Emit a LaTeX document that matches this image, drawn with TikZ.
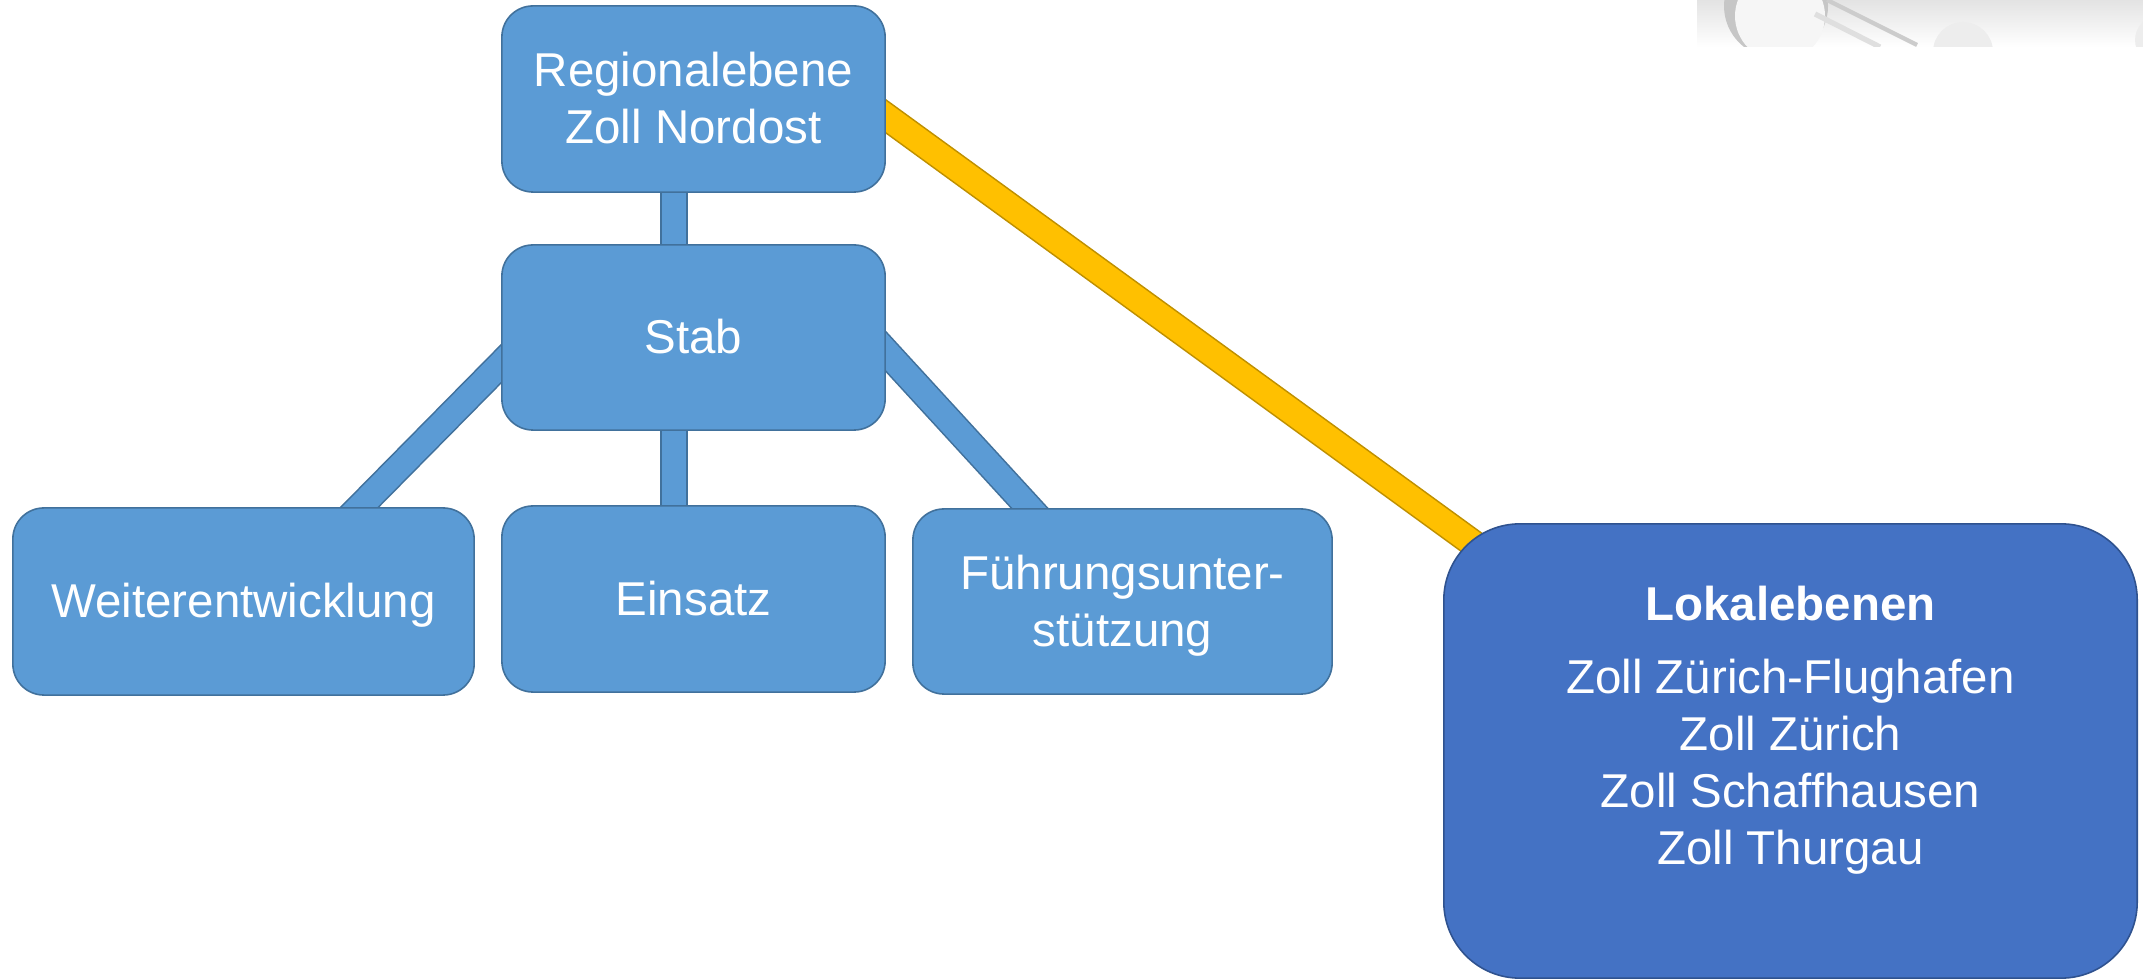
\documentclass[tikz,border=0pt]{standalone}
\usepackage{fontspec}
\setmainfont{Liberation Sans}
\definecolor{bfill}{HTML}{5B9BD5}
\definecolor{bline}{HTML}{41719C}
\definecolor{lfill}{HTML}{4472C4}
\definecolor{lline}{HTML}{2F528F}
\definecolor{yfill}{HTML}{FFC000}
\definecolor{yline}{HTML}{BF9000}
\pgfdeclarelayer{background}
\pgfsetlayers{background,main}
\newcommand{\pptstrut}{\rule[-0.212em]{0pt}{1.117em}}
\begin{document}
\begin{tikzpicture}[x=0.01cm,y=-0.01cm,
  boxtext/.style={text=white, align=center, inner sep=0pt, font=\fontsize{13.5}{16.2}\selectfont},
  box/.style={boxtext, draw=bline, fill=bfill, line width=0.45pt, rounded corners=0.31cm},
  lokalbox/.style={draw=lline, fill=lfill, line width=0.45pt, rounded corners=0.76cm, inner sep=0pt},
  bar/.style={draw=bline, line width=0.45pt, double=bfill, double distance=7.1pt},
  ybar/.style={draw=yline, line width=0.45pt, double=yfill, double distance=7.1pt}]
\useasboundingbox (0,0) rectangle (2143,980);

% nodes
\node[box, minimum width=3.83cm, minimum height=1.86cm] (reg) at (693.5,99) {\pptstrut Regionalebene\\\pptstrut Zoll Nordost};
\node[box, minimum width=3.83cm, minimum height=1.85cm] (stab) at (693.5,337.5) {\pptstrut Stab};
\node[box, minimum width=4.61cm, minimum height=1.87cm] (weiter) at (243.5,601.5) {\pptstrut Weiterentwicklung};
\node[box, minimum width=3.83cm, minimum height=1.86cm] (einsatz) at (693.5,599) {\pptstrut Einsatz};
\node[box, minimum width=4.19cm, minimum height=1.85cm] (fuehr) at (1122.5,601.5) {\pptstrut Führungsunter-\\\pptstrut stützung};
\node[lokalbox, minimum width=6.93cm, minimum height=4.54cm] (lokal) at (1790.5,751) {};
\node[boxtext] (lokaltext) at (1790.5,726) {\pptstrut\textbf{Lokalebenen}\\[4.5pt]\pptstrut Zoll Zürich-Flughafen\\\pptstrut Zoll Zürich\\\pptstrut Zoll Schaffhausen\\\pptstrut Zoll Thurgau};

\begin{pgfonlayer}{background}
  % faded picture fragment, top right
  \begin{scope}
    \clip (1697,0) rectangle (2143,47);
    \shade[top color=gray!22, bottom color=white] (1697,0) rectangle (2143,47);
    \fill[gray!45] (1776,6) circle (52);
    \fill[white!93!gray] (1780,16) circle (45);
    \draw[gray!40, line width=1.2pt] (1827,0) -- (1917,45);
    \draw[gray!25, line width=1.5pt] (1815,14) -- (1880,47);
    \fill[gray!14] (1963,52) circle (30);
    \fill[gray!14] (2160,40) circle (25);
    \shade[top color=white, bottom color=white, middle color=white, opacity=0] (1697,0) rectangle (2143,47);
  \end{scope}
  % connectors
  \draw[bar] ([xshift=-0.195cm]reg.center) -- ([xshift=-0.195cm]stab.center);
  \draw[bar] ([xshift=-0.195cm]stab.center) -- ([xshift=-0.195cm]einsatz.center);
  \draw[bar] ([xshift=-1.135cm, yshift=0.535cm]stab.center) -- ([xshift=0.965cm, yshift=0.745cm]weiter.center);
  \draw[bar] ([xshift=1.065cm, yshift=0.795cm]stab.center) -- ([xshift=-0.775cm, yshift=0.765cm]fuehr.center);
  \draw[ybar] ([xshift=1.065cm, yshift=0.45cm]reg.center) -- ([xshift=-2.905cm, yshift=1.88cm]lokal.center);
\end{pgfonlayer}
\end{tikzpicture}
\end{document}
